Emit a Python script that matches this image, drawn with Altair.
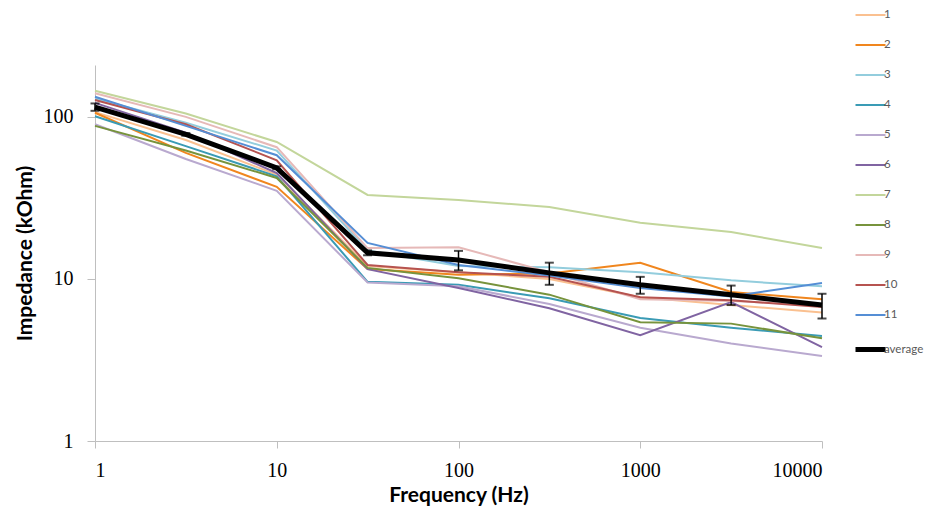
import altair as alt
import pandas as pd

freq = [1, 3.16, 10, 31.6, 100, 316, 1000, 3162, 10000]

series_names = ["1", "2", "3", "4", "5", "6", "7", "8", "9", "10", "11", "average"]

s1 = [107, 72, 44, 12.0, 11.0, 10.0, 7.7, 6.9, 6.2]
s2 = [106, 60, 37, 11.5, 10.6, 10.8, 12.6, 8.3, 7.5]
s3 = [130, 92, 62, 15.0, 12.0, 11.8, 11.0, 9.8, 9.0]
s4 = [101, 66, 43, 9.6, 9.2, 7.6, 5.75, 5.0, 4.45]
s5 = [90, 55, 35, 9.5, 9.0, 7.0, 5.0, 4.0, 3.35]
s6 = [122, 80, 45, 11.5, 8.8, 6.6, 4.5, 7.2, 3.8]
s7 = [145, 105, 70, 33, 30.7, 27.8, 22.2, 19.5, 15.5]
s8 = [88, 62, 42, 11.7, 10.1, 8.0, 5.4, 5.3, 4.3]
s9 = [140, 100, 65, 15.5, 15.7, 11.0, 7.5, 7.3, 6.9]
s10 = [127, 90, 54, 12.2, 11.0, 10.3, 7.7, 7.4, 6.7]
s11 = [133, 88, 58, 16.7, 12.2, 10.5, 8.8, 7.8, 9.45]
average = [115, 78, 48.5, 14.5, 13.1, 10.9, 9.2, 8.0, 6.9]
average_err = [6, 1.5, 1.0, 0.5, 1.8, 1.7, 1.1, 1.1, 1.2]

colors = ["#FAC090", "#F0861E", "#93CDDD", "#3A9BB5", "#B9A9CF", "#8064A2",
          "#C3D69B", "#77933C", "#E6B9B8", "#B65350", "#558ED5", "#000000"]
widths = [2, 2, 2, 2, 2, 2, 2, 2, 2, 2, 2, 5]

all_series = [s1, s2, s3, s4, s5, s6, s7, s8, s9, s10, s11, average]

rows = []
for name, vals in zip(series_names, all_series):
    for f, v in zip(freq, vals):
        rows.append({"freq": f, "value": v, "series": name})
df = pd.DataFrame(rows)

err_df = pd.DataFrame({
    "freq": freq,
    "lo": [a - e for a, e in zip(average, average_err)],
    "hi": [a + e for a, e in zip(average, average_err)],
})

x_enc = alt.X("freq:Q",
              scale=alt.Scale(type="log", domain=[1, 10000], nice=False),
              axis=alt.Axis(values=[1, 10, 100, 1000, 10000], format="d",
                            title="Frequency (Hz)", tickSize=7,
                            labelPadding=12, titlePadding=4))
y_enc = alt.Y("value:Q",
              scale=alt.Scale(type="log", domain=[1, 209], nice=False),
              axis=alt.Axis(values=[1, 10, 100], format="d",
                            title="Impedance (kOhm)", tickSize=8,
                            labelPadding=14, titlePadding=8))

color_enc = alt.Color("series:N", scale=alt.Scale(domain=series_names, range=colors),
                      sort=series_names)
width_enc = alt.StrokeWidth("series:N",
                            scale=alt.Scale(type="ordinal", domain=series_names, range=widths),
                            sort=series_names)

lines = alt.Chart(df).transform_filter(alt.datum.series != "average").mark_line().encode(
    x=x_enc, y=y_enc, color=color_enc, strokeWidth=width_enc
)
avg_line = alt.Chart(df).transform_filter(alt.datum.series == "average").mark_line().encode(
    x=x_enc, y=y_enc, color=color_enc, strokeWidth=width_enc
)

err_rule = alt.Chart(err_df).mark_rule(color="black", strokeWidth=1.5).encode(
    x="freq:Q", y="lo:Q", y2="hi:Q"
)
err_lo = alt.Chart(err_df).mark_tick(color="black", orient="horizontal", size=9, thickness=2).encode(
    x="freq:Q", y="lo:Q"
)
err_hi = alt.Chart(err_df).mark_tick(color="black", orient="horizontal", size=9, thickness=2).encode(
    x="freq:Q", y="hi:Q"
)

chart = alt.layer(lines, avg_line, err_rule, err_lo, err_hi).properties(
    width=727, height=376,
    autosize=alt.AutoSizeParams(type="none"),
    padding={"left": 87, "top": 57, "right": 105, "bottom": 68},
).configure_view(stroke=None).configure_axis(
    grid=False,
    domainColor="#BFBFBF",
    tickColor="#BFBFBF",
    labelFont="Liberation Serif",
    labelFontSize=20,
    labelColor="#000000",
    titleFont="Lato",
    titleFontSize=21,
    titleFontWeight="bold",
    titleColor="#000000",
).configure_legend(
    orient="none",
    legendX=768,
    legendY=-56,
    title=None,
    padding=0,
    symbolType="M-3,0H3",
    symbolSize=100,
    rowPadding=18,
    labelOffset=6,
    labelFont="Lato",
    labelFontSize=11.5,
    labelColor="#595959",
)

chart.save("out.html", embed_options={"renderer": "svg", "actions": False})
